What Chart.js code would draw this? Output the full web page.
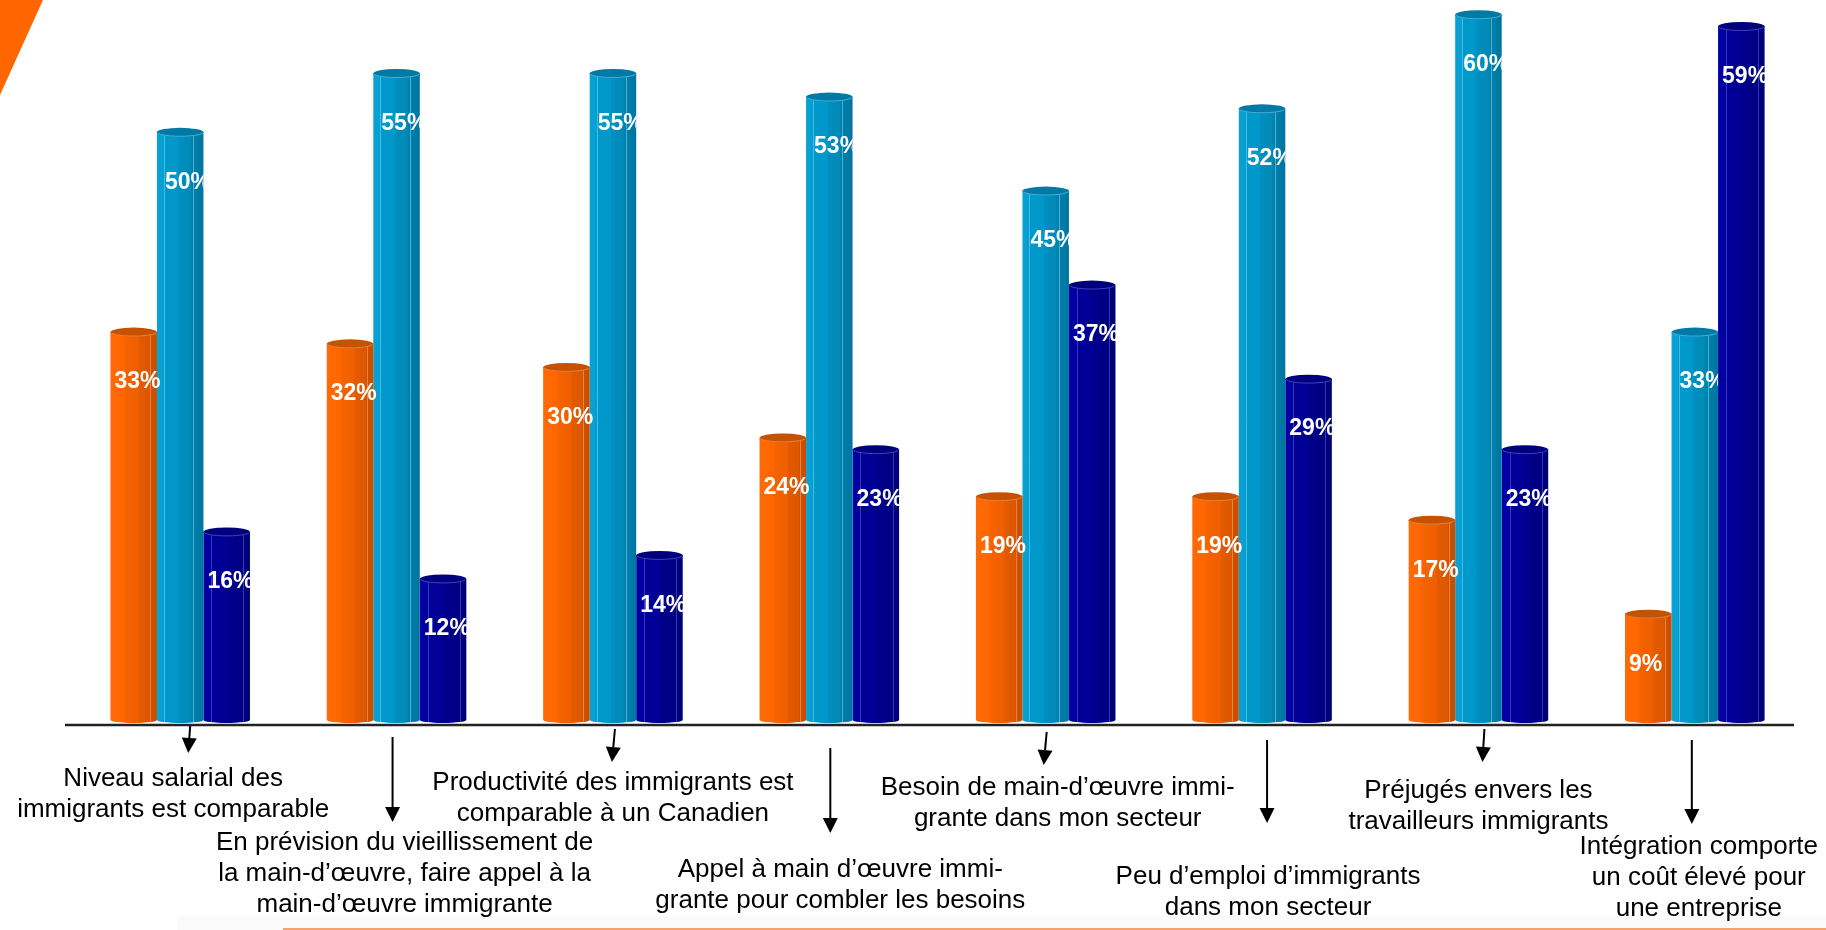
<!DOCTYPE html>
<html>
<head>
<meta charset="utf-8">
<script src="https://cdn.jsdelivr.net/npm/chart.js@4.4.1/dist/chart.umd.min.js"></script>
<style>
  html, body { margin: 0; padding: 0; background: #ffffff; overflow: hidden; }
  #wrap { position: relative; width: 1826px; height: 930px; }
</style>
</head>
<body>
<div id="wrap"><canvas id="chart" width="1826" height="930"></canvas></div>
<script>
// Statements shown under the axis (one array entry per line)
const categories = [
  ['Niveau salarial des', 'immigrants est comparable'],
  ['En prévision du vieillissement de', 'la main-d’œuvre, faire appel à la', 'main-d’œuvre immigrante'],
  ['Productivité des immigrants est', 'comparable à un Canadien'],
  ['Appel à main d’œuvre immi-', 'grante pour combler les besoins'],
  ['Besoin de main-d’œuvre immi-', 'grante dans mon secteur'],
  ['Peu d’emploi d’immigrants', 'dans mon secteur'],
  ['Préjugés envers les', 'travailleurs immigrants'],
  ['Intégration comporte', 'un coût élevé pour', 'une entreprise']
];

// Percentages per series
const seriesOrange = [33, 32, 30, 24, 19, 19, 17, 9];
const seriesBlue   = [50, 55, 55, 53, 45, 52, 60, 33];
const seriesNavy   = [16, 12, 14, 23, 37, 29, 23, 59];

// Cylinder shading per series
const palettes = [
  {
    flat: '#f26100',
    stops: [[0, '#ff6a06'], [0.3, '#ff6600'], [0.32, '#f56200'], [0.6, '#ef5f00'], [0.62, '#e35a00'], [0.84, '#dc5700'], [0.86, '#cf5200'], [1, '#c44e00']],
    facets: [0.86],
    facetColor: 'rgba(255,170,120,0.55)',
    cap: '#c65200',
    rim: 'rgba(240,140,80,0.8)'
  },
  {
    flat: '#0095c6',
    stops: [[0, '#0aa2d4'], [0.14, '#079fd2'], [0.16, '#0099cc'], [0.45, '#0098ca'], [0.47, '#008fbf'], [0.72, '#0089b7'], [0.74, '#0082ae'], [1, '#0074a0']],
    facets: [0.15, 0.78],
    facetColor: 'rgba(120,210,240,0.6)',
    cap: '#0079a4',
    rim: 'rgba(90,190,230,0.8)'
  },
  {
    flat: '#000090',
    stops: [[0, '#0000a4'], [0.16, '#00009e'], [0.18, '#000099'], [0.5, '#000094'], [0.52, '#00008c'], [0.85, '#000083'], [0.87, '#00007c'], [1, '#000074']],
    facets: [0.17, 0.86],
    facetColor: 'rgba(90,90,220,0.6)',
    cap: '#00007c',
    rim: 'rgba(80,80,210,0.8)'
  }
];

// Arrow and caption placement under each category (offsets from the category centre)
const callouts = [
  { dx: -7, ax0: 10, ax1: 8,  a0: 726, a1: 753, y: 779 },
  { dx: 8,  ax0: -4, ax1: -4, a0: 737, a1: 822, y: 843 },
  { dx: 0,  ax0: 2,  ax1: -1, a0: 729, a1: 762, y: 783 },
  { dx: 11, ax0: 1,  ax1: 1,  a0: 748, a1: 833, y: 870 },
  { dx: 12, ax0: 1,  ax1: -2, a0: 732, a1: 765, y: 788 },
  { dx: 6,  ax0: 5,  ax1: 5,  a0: 740, a1: 823, y: 877 },
  { dx: 0,  ax0: 6,  ax1: 4,  a0: 729, a1: 762, y: 791 },
  { dx: 4,  ax0: -3, ax1: -3, a0: 740, a1: 824, y: 847 }
];

const LABEL_FONT = 'bold 23px "Liberation Sans", Arial, Helvetica, sans-serif';
const CAPTION_FONT = '26px "Liberation Sans", Arial, Helvetica, sans-serif';

function cylinderFill(ctx) {
  const pal = palettes[ctx.datasetIndex];
  const el = ctx.element;
  if (!el || !isFinite(el.x) || !isFinite(el.width) || !el.width) return pal.flat;
  const l = el.x - el.width / 2, r = el.x + el.width / 2;
  const g = ctx.chart.ctx.createLinearGradient(l, 0, r, 0);
  pal.stops.forEach(([o, c]) => g.addColorStop(o, c));
  return g;
}

function gradientFor(c, el, pal) {
  const l = el.x - el.width / 2, r = el.x + el.width / 2;
  const g = c.createLinearGradient(l, 0, r, 0);
  pal.stops.forEach(([o, col]) => g.addColorStop(o, col));
  return g;
}

// Slide decoration: corner wedge, footer strip and rule
const backdrop = {
  id: 'backdrop',
  beforeDraw(chart) {
    const c = chart.ctx;
    c.save();
    c.fillStyle = '#ffffff';
    c.fillRect(0, 0, chart.width, chart.height);
    c.fillStyle = '#fbfbfb';
    c.fillRect(177, 916, chart.width - 177, 14);
    c.fillStyle = '#ff6600';
    c.beginPath();
    c.moveTo(0, 0); c.lineTo(43, 0); c.lineTo(0, 95); c.closePath();
    c.fill();
    c.strokeStyle = '#f4a36c';
    c.lineWidth = 2;
    c.beginPath();
    c.moveTo(283, 929); c.lineTo(chart.width, 929);
    c.stroke();
    c.restore();
  }
};

// Cylinder caps, facet lines, rounded bottoms and value labels
const cylinders = {
  id: 'cylinders',
  afterDatasetsDraw(chart) {
    const c = chart.ctx;
    const metas = chart.data.datasets.map((d, i) => chart.getDatasetMeta(i));
    metas.forEach((meta, di) => {
      const pal = palettes[di];
      meta.data.forEach((el) => {
        const w = el.width, l = el.x - w / 2;
        c.save();
        // rounded bottom
        c.fillStyle = gradientFor(c, el, pal);
        c.beginPath();
        c.ellipse(el.x, el.base, w / 2, 3, 0, 0, Math.PI);
        c.fill();
        // facet highlights
        c.strokeStyle = pal.facetColor;
        c.lineWidth = 1;
        pal.facets.forEach((f) => {
          const fx = Math.round(l + f * w) + 0.5;
          c.beginPath();
          c.moveTo(fx, el.y + 3);
          c.lineTo(fx, el.base + 2);
          c.stroke();
        });
        // top cap
        c.fillStyle = pal.cap;
        c.beginPath();
        c.ellipse(el.x, el.y, w / 2, 4.5, 0, 0, Math.PI * 2);
        c.fill();
        c.strokeStyle = pal.rim;
        c.lineWidth = 1;
        c.beginPath();
        c.ellipse(el.x, el.y, w / 2 - 0.5, 4, 0, 0.15, Math.PI - 0.15);
        c.stroke();
        c.restore();
      });
    });
    // value labels, clipped to their own bar
    metas.forEach((meta, di) => {
      const values = chart.data.datasets[di].data;
      meta.data.forEach((el, i) => {
        const w = el.width, l = el.x - w / 2;
        c.save();
        c.beginPath();
        c.rect(l, 0, w + (di === 1 ? 0 : 4), chart.height);
        c.clip();
        c.font = LABEL_FONT;
        c.fillStyle = '#ffffff';
        c.textAlign = 'left';
        c.textBaseline = 'middle';
        c.fillText(values[i] + '%', l + (di === 1 ? 8 : 4), el.y + 50);
        c.restore();
      });
    });
  }
};

// Axis rule, arrows and captions
const captions = {
  id: 'captions',
  afterDraw(chart) {
    const c = chart.ctx;
    const x = chart.scales.x;
    const area = chart.chartArea;
    c.save();
    const axisY = area.bottom + 5;
    c.strokeStyle = '#222222';
    c.lineWidth = 2.5;
    c.beginPath();
    c.moveTo(area.left - 7, axisY);
    c.lineTo(area.right - 9, axisY);
    c.stroke();

    c.font = CAPTION_FONT;
    c.fillStyle = '#000000';
    c.textAlign = 'center';
    c.textBaseline = 'middle';
    chart.data.labels.forEach((lines, i) => {
      const cx = x.getPixelForValue(i);
      const co = callouts[i];
      // arrow
      const x0 = cx + co.ax0, x1 = cx + co.ax1;
      const head = 15, half = 7.5;
      const ang = Math.atan2(co.a1 - co.a0, x1 - x0);
      const bx = x1 - head * Math.cos(ang), by = co.a1 - head * Math.sin(ang);
      c.strokeStyle = '#000000';
      c.lineWidth = 2;
      c.beginPath();
      c.moveTo(x0, co.a0);
      c.lineTo(bx, by);
      c.stroke();
      c.beginPath();
      c.moveTo(x1, co.a1);
      c.lineTo(bx + half * Math.sin(ang), by - half * Math.cos(ang));
      c.lineTo(bx - half * Math.sin(ang), by + half * Math.cos(ang));
      c.closePath();
      c.fill();
      // caption
      lines.forEach((t, k) => {
        c.fillText(t, cx + co.dx, co.y + k * 31);
      });
    });
    c.restore();
  }
};

const chart = new Chart(document.getElementById('chart'), {
  type: 'bar',
  data: {
    labels: categories,
    datasets: [
      { label: 'Série 1', data: seriesOrange, backgroundColor: cylinderFill },
      { label: 'Série 2', data: seriesBlue, backgroundColor: cylinderFill },
      { label: 'Série 3', data: seriesNavy, backgroundColor: cylinderFill }
    ]
  },
  options: {
    responsive: false,
    animation: false,
    devicePixelRatio: 1,
    layout: { padding: { left: 72, right: 23, top: 3, bottom: 210 } },
    datasets: { bar: { categoryPercentage: 0.645, barPercentage: 1, borderWidth: 0 } },
    plugins: {
      legend: { display: false },
      tooltip: { enabled: false },
      title: { display: false }
    },
    scales: {
      x: { display: false },
      y: { display: false, min: 0, max: 61 }
    }
  },
  plugins: [backdrop, cylinders, captions]
});
// second pass so the shading can use the laid-out bar geometry
chart.update('none');
</script>
</body>
</html>
